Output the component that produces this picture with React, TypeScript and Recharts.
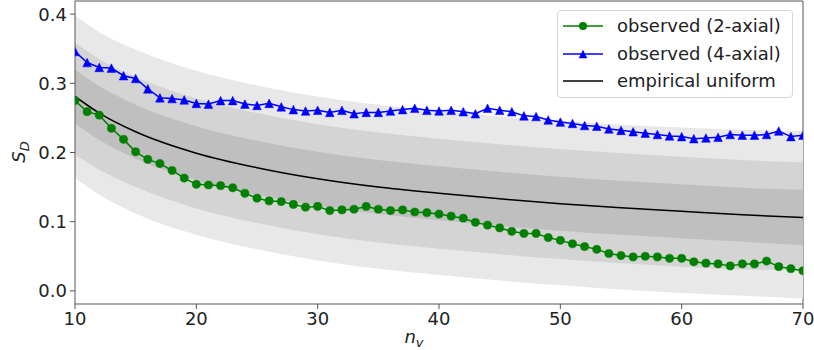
import React from 'react';
import { ComposedChart, Area, Line, XAxis, YAxis } from 'recharts';

// n_v categories (x values)
const nv = [
  10, 11, 12, 13, 14, 15, 16, 17, 18, 19, 20, 21, 22, 23, 24, 25, 26, 27, 28, 29,
  30, 31, 32, 33, 34, 35, 36, 37, 38, 39, 40, 41, 42, 43, 44, 45, 46, 47, 48, 49,
  50, 51, 52, 53, 54, 55, 56, 57, 58, 59, 60, 61, 62, 63, 64, 65, 66, 67, 68, 69, 70,
];

// observed (2-axial)
const observed2 = [
  0.275, 0.259, 0.254, 0.235, 0.219, 0.201, 0.190, 0.184, 0.174, 0.163,
  0.154, 0.153, 0.152, 0.149, 0.141, 0.134, 0.130, 0.129, 0.125, 0.121,
  0.122, 0.116, 0.117, 0.118, 0.122, 0.118, 0.116, 0.117, 0.114, 0.113,
  0.111, 0.108, 0.105, 0.099, 0.095, 0.091, 0.086, 0.083, 0.083, 0.077,
  0.073, 0.068, 0.064, 0.060, 0.054, 0.051, 0.049, 0.050, 0.049, 0.047,
  0.047, 0.042, 0.040, 0.039, 0.036, 0.039, 0.039, 0.043, 0.035, 0.032, 0.029,
];

// observed (4-axial)
const observed4 = [
  0.346, 0.330, 0.323, 0.322, 0.311, 0.307, 0.292, 0.279, 0.278, 0.276,
  0.271, 0.270, 0.275, 0.275, 0.270, 0.268, 0.271, 0.266, 0.262, 0.260,
  0.261, 0.258, 0.261, 0.256, 0.258, 0.258, 0.260, 0.262, 0.264, 0.261,
  0.260, 0.261, 0.259, 0.256, 0.264, 0.261, 0.259, 0.253, 0.252, 0.247,
  0.244, 0.242, 0.239, 0.238, 0.234, 0.232, 0.230, 0.228, 0.226, 0.224,
  0.223, 0.220, 0.221, 0.222, 0.226, 0.225, 0.225, 0.226, 0.231, 0.223, 0.225,
];

// empirical uniform curve and its bands, read at these n_v
const bandX = [10, 12, 15, 20, 25, 30, 35, 40, 45, 50, 55, 60, 65, 70];
const uniformMean = [0.281, 0.257, 0.230, 0.199, 0.178, 0.162, 0.150, 0.141, 0.133, 0.126, 0.120, 0.115, 0.110, 0.106];
const lightHi = [0.398, 0.374, 0.349, 0.318, 0.297, 0.281, 0.269, 0.260, 0.252, 0.246, 0.240, 0.236, 0.233, 0.231];
const medHi = [0.359, 0.335, 0.309, 0.278, 0.257, 0.241, 0.229, 0.220, 0.212, 0.205, 0.199, 0.194, 0.189, 0.186];
const darkHi = [0.320, 0.296, 0.269, 0.238, 0.217, 0.201, 0.189, 0.180, 0.172, 0.165, 0.159, 0.154, 0.149, 0.146];
const darkLo = [0.242, 0.218, 0.191, 0.160, 0.139, 0.123, 0.111, 0.102, 0.094, 0.087, 0.081, 0.076, 0.071, 0.066];
const medLo = [0.197, 0.175, 0.150, 0.119, 0.098, 0.082, 0.070, 0.061, 0.053, 0.046, 0.040, 0.035, 0.031, 0.030];
const lightLo = [0.163, 0.139, 0.112, 0.081, 0.060, 0.044, 0.032, 0.023, 0.015, 0.008, 0.002, -0.003, -0.007, -0.011];

const xTicks = [10, 20, 30, 40, 50, 60, 70];
const yTicks = [0.0, 0.1, 0.2, 0.3, 0.4];

const seriesNames = ['observed (2-axial)', 'observed (4-axial)', 'empirical uniform'];

type Row = {
  x: number;
  g: number;
  b: number;
  mean?: number;
  light?: [number | null, number | null];
  med?: [number | null, number | null];
  dark?: [number | null, number | null];
};

const data: Row[] = nv.map((x, i) => {
  const j = bandX.indexOf(x);
  const row: Row = { x, g: observed2[i], b: observed4[i] };
  if (j >= 0) {
    row.mean = uniformMean[j];
    row.light = [lightLo[j], lightHi[j]];
    row.med = [medLo[j], medHi[j]];
    row.dark = [darkLo[j], darkHi[j]];
  } else {
    row.light = [null, null];
    row.med = [null, null];
    row.dark = [null, null];
  }
  return row;
});

const FONT = 'DejaVu Sans, sans-serif';
const FS = 18;
const GREEN = '#008000';
const BLUE = '#0000ff';

const TriangleDot = (props: any) => {
  const { cx, cy } = props;
  if (cx == null || cy == null) return null;
  const r = 4.3;
  return (
    <path
      key={`t-${cx}`}
      d={`M${cx},${cy - r} L${cx + r},${cy + r} L${cx - r},${cy + r} Z`}
      fill={BLUE}
      stroke={BLUE}
      strokeWidth={0.5}
    />
  );
};

const CircleDot = (props: any) => {
  const { cx, cy } = props;
  if (cx == null || cy == null) return null;
  return <circle key={`c-${cx}`} cx={cx} cy={cy} r={4.1} fill={GREEN} stroke={GREEN} strokeWidth={0.5} />;
};

const LegendBox = () => (
  <div
    style={{
      position: 'absolute',
      left: 557,
      top: 10,
      width: 236,
      height: 88,
      boxSizing: 'border-box',
      border: '1px solid #d6d6d6',
      borderRadius: 4,
      background: 'rgba(255,255,255,0.85)',
    }}
  >
    <svg width={236} height={88} style={{ position: 'absolute', left: -1, top: -1 }}>
      <line x1={6} x2={46} y1={16} y2={16} stroke={GREEN} strokeWidth={1.5} />
      <circle cx={26} cy={16} r={4.1} fill={GREEN} />
      <line x1={6} x2={46} y1={44} y2={44} stroke={BLUE} strokeWidth={1.5} />
      <path d="M26,39.7 L30.3,48.3 L21.7,48.3 Z" fill={BLUE} />
      <line x1={6} x2={46} y1={71} y2={71} stroke="#000" strokeWidth={1.5} />
      <text x={60} y={22} fontFamily={FONT} fontSize={FS} fill="#222">{seriesNames[0]}</text>
      <text x={60} y={50} fontFamily={FONT} fontSize={FS} fill="#222">{seriesNames[1]}</text>
      <text x={60} y={77} fontFamily={FONT} fontSize={FS} fill="#222">{seriesNames[2]}</text>
    </svg>
  </div>
);

export default function App() {
  return (
    <div style={{ position: 'absolute', left: 0, top: 0, width: 814, height: 350, background: '#fff' }}>
      <ComposedChart
        width={814}
        height={350}
        data={data}
        margin={{ top: 1, right: 11, bottom: 0, left: 0 }}
      >
        <XAxis
          dataKey="x"
          type="number"
          domain={[10, 70]}
          ticks={xTicks}
          allowDataOverflow
          height={46}
          tickSize={5}
          tickMargin={3}
          stroke="#555"
          tick={{ fill: '#222', fontFamily: FONT, fontSize: FS }}
        />
        <YAxis
          type="number"
          domain={[-0.019, 0.419]}
          ticks={yTicks}
          allowDataOverflow
          width={75}
          tickSize={5}
          tickMargin={3}
          stroke="#555"
          tickFormatter={(v: number) => v.toFixed(1)}
          tick={{ fill: '#222', fontFamily: FONT, fontSize: FS }}
        />
        <Area
          type="monotone"
          dataKey="light"
          connectNulls
          stroke="none"
          fill="#e8e8e8"
          fillOpacity={1}
          isAnimationActive={false}
          activeDot={false}
          legendType="none"
        />
        <Area
          type="monotone"
          dataKey="med"
          connectNulls
          stroke="none"
          fill="#d4d4d4"
          fillOpacity={1}
          isAnimationActive={false}
          activeDot={false}
          legendType="none"
        />
        <Area
          type="monotone"
          dataKey="dark"
          connectNulls
          stroke="none"
          fill="#bfbfbf"
          fillOpacity={1}
          isAnimationActive={false}
          activeDot={false}
          legendType="none"
        />
        <Line
          type="monotone"
          dataKey="mean"
          name={seriesNames[2]}
          connectNulls
          stroke="#000"
          strokeWidth={1.5}
          dot={false}
          activeDot={false}
          isAnimationActive={false}
        />
        <Line
          type="linear"
          dataKey="g"
          name={seriesNames[0]}
          stroke={GREEN}
          strokeWidth={1.5}
          dot={<CircleDot />}
          activeDot={false}
          isAnimationActive={false}
        />
        <Line
          type="linear"
          dataKey="b"
          name={seriesNames[1]}
          stroke={BLUE}
          strokeWidth={1.5}
          dot={<TriangleDot />}
          activeDot={false}
          isAnimationActive={false}
        />
        <svg>
          <line x1={75} x2={803} y1={1} y2={1} stroke="#555" strokeWidth={1} />
          <line x1={803} x2={803} y1={1} y2={304} stroke="#555" strokeWidth={1} />
        </svg>
        <text
          x={0}
          y={0}
          transform="translate(25,152) rotate(-90)"
          textAnchor="middle"
          fontFamily={FONT}
          fontSize={FS}
          fill="#222"
        >
          <tspan fontStyle="italic">S</tspan>
          <tspan fontStyle="italic" fontSize={13} dy={4}>D</tspan>
        </text>
        <text x={414} y={343} textAnchor="middle" fontFamily={FONT} fontSize={FS} fill="#222">
          <tspan fontStyle="italic">n</tspan>
          <tspan fontStyle="italic" fontSize={13} dy={4}>v</tspan>
        </text>
      </ComposedChart>
      <LegendBox />
    </div>
  );
}
